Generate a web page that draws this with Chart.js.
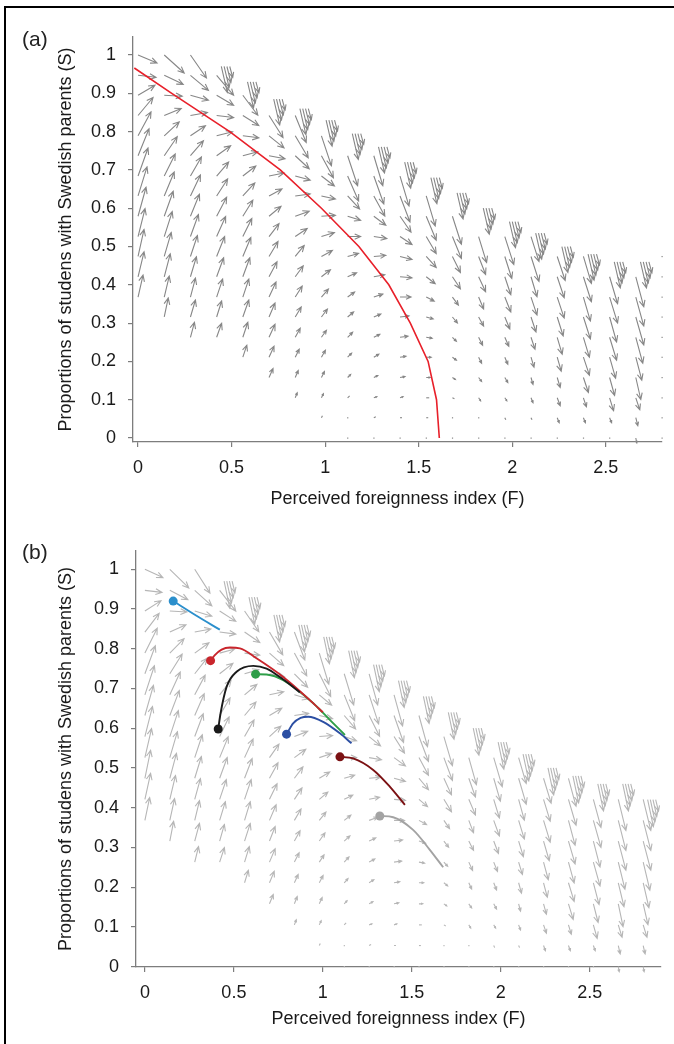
<!DOCTYPE html>
<html>
<head>
<meta charset="utf-8">
<script src="https://cdn.jsdelivr.net/npm/chart.js@4.4.0/dist/chart.umd.min.js"></script>
<style>
  body { margin: 0; background: #fff; width: 674px; height: 1044px; overflow: hidden; position: relative;
         font-family: "Liberation Sans", Arial, Helvetica, sans-serif; }
  #frame { position: absolute; left: 4px; top: 6px; width: 700px; height: 1100px;
           border-top: 2.5px solid #000; border-left: 2.5px solid #000; }
  canvas { position: absolute; left: 0; }
  #ca { top: 0; }
  #cb { top: 520px; }
  .tag { position: absolute; font-size: 21px; line-height: 1; color: #222; }
</style>
</head>
<body>
<div id="frame"></div>
<canvas id="ca" width="674" height="520"></canvas>
<canvas id="cb" width="674" height="524"></canvas>
<div class="tag" style="left:22px;top:28px">(a)</div>
<div class="tag" style="left:22px;top:541px">(b)</div>
<script>
// --- ticks ---
const xTicks = [0, 0.5, 1, 1.5, 2, 2.5];
const yTicks = [0, 0.1, 0.2, 0.3, 0.4, 0.5, 0.6, 0.7, 0.8, 0.9, 1];

// --- vector field grid (F columns, S rows from top) ---
const fieldF = [0, 0.14, 0.28, 0.42, 0.56, 0.7, 0.84, 0.98, 1.12, 1.26, 1.4,
                1.54, 1.68, 1.82, 1.96, 2.1, 2.24, 2.38, 2.52, 2.66, 2.8];
const fieldS = [1, 0.947, 0.895, 0.842, 0.789, 0.737, 0.684, 0.632, 0.579, 0.526,
                0.474, 0.421, 0.368, 0.316, 0.263, 0.211, 0.158, 0.105, 0.053, 0];

// first row drawn in each column (index into fieldS)
const colStart = [0, 0, 0, 1, 2, 3, 3, 4, 5, 5, 6, 7, 8, 9, 9, 9, 10, 10, 11, 11];

// field components [dF, dS] per column, top row first (arbitrary units)
const colVec = [
  [[19,-8],[18,-2],[17,10],[15,18],[13,24],[11,27],[10,28],[9,29],[8,29],[7,28],[6,27],[6,25],[5,22]],
  [[20,-18],[19,-9],[18,-1],[17,7],[15,14],[13,19],[11,22],[10,24],[9,25],[8,25],[7,24],[6,23],[5,21],[4,19]],
  [[16,-23],[18,-15],[18,-5],[17,3],[15,10],[13,15],[11,19],[10,21],[9,22],[8,22],[7,21],[6,20],[5,19],[5,17],[4,15]],
  [[17,-20],[17,-10],[17,-2],[16,4],[14,10],[12,14],[11,17],[10,19],[9,20],[8,20],[7,19],[6,18],[5,16],[5,14]],
  [[15,-20],[16,-10],[16,-2],[15,4],[13,10],[12,13],[10,16],[9,18],[8,19],[7,19],[6,18],[6,17],[5,15],[4,12]],
  [[14,-22],[15,-12],[16,-3],[15,3],[13,7],[12,10],[10,13],[9,15],[8,15],[7,15],[6,14],[6,13],[5,11],[4,9]],
  [[11,-27],[13,-22],[14,-13],[15,-4],[15,2],[14,5],[12,8],[9,11],[8,11],[7,11],[6,10],[5,9],[4,8],[3,7],[2,5]],
  [[10,-30],[12,-22],[13,-10],[14,-3],[14,1],[13,4],[11,6],[9,7],[7,8],[6,8],[5,7],[4,7],[3,6],[2,4],[1,2]],
  [[10,-30],[11,-25],[12,-13],[13,-4],[13,0],[11,3],[9,4],[7,5],[6,5],[5,5],[4,4],[3,3],[2,2],[1,1],[0.5,0]],
  [[9,-30],[10,-28],[11,-20],[12,-9],[13,-2],[12,1],[11,2],[9,3],[7,3],[6,3],[5,3],[4,2],[3,1],[2,1],[0.5,0]],
  [[9,-30],[10,-26],[11,-16],[12,-8],[12,-3],[12,-1],[11,0],[9,1],[8,1],[6,1],[5,1],[3,1],[2,0],[0.5,0]],
  [[9,-30],[10,-24],[10,-17],[10,-11],[9,-7],[8,-4],[7,-2],[6,-1],[5,0],[4,0],[3,0],[2,0],[0.5,0]],
  [[9,-28],[9,-22],[8,-16],[8,-12],[6,-8],[5,-6],[4,-4],[4,-3],[3,-2],[2,-1],[1,-1],[0.5,0]],
  [[8,-26],[7,-18],[7,-15],[5,-12],[5,-9],[4,-8],[3,-6],[3,-4],[2,-3],[1,-1],[0.5,0]],
  [[9,-28],[7,-22],[6,-18],[6,-15],[5,-12],[4,-9],[3,-7],[3,-5],[2,-3],[1,-2],[0.5,0]],
  [[8,-25],[8,-25],[6,-20],[6,-18],[5,-15],[4,-12],[3,-10],[2,-7],[2,-5],[1,-2],[0.5,0]],
  [[8,-24],[7,-21],[7,-21],[6,-19],[5,-17],[4,-14],[3,-10],[3,-8],[2,-5],[0.5,-1]],
  [[8,-27],[8,-25],[7,-24],[7,-22],[6,-20],[6,-18],[5,-15],[3,-9],[2,-5],[0.5,-1]],
  [[8,-27],[8,-26],[7,-25],[7,-23],[6,-21],[5,-18],[4,-13],[2,-5],[0.5,-1]],
  [[8,-30],[8,-29],[8,-28],[7,-26],[6,-23],[5,-22],[4,-12],[2,-8],[1,-5]]
];
// last column (F = 2.8) differs between the panels
const lastStartA = 10;
const lastVecA = [[0.5,0],[0.5,0],[0.5,0],[0.5,0],[0.5,0],[0.5,0],[0.5,0],[0.5,0],[0.5,0],[0.5,0]];
const lastStartB = 11;
const lastVecB = [[8,-30],[8,-29],[8,-28],[7,-27],[6,-24],[5,-20],[4,-12],[2,-8],[1,-5]];

// bunched arrows at the upper edge of each column
const edgeS = [null, null, null, 0.97, 0.93, 0.885, 0.86, 0.83, 0.795, 0.76, 0.72,
               0.68, 0.64, 0.60, 0.565, 0.535, 0.50, 0.48, 0.46, 0.46];
const edgeDF = [0.025, 0.04, 0.055, 0.07];
const edgeVec = [[6,-26],[5,-21],[4,-16],[3,-11]];

// --- panel (a): S nullcline ---
const nullF = [-0.02, 0.18, 0.49, 0.76, 0.98, 1.18, 1.34, 1.455, 1.55, 1.595, 1.61];
const nullS = [0.966, 0.9, 0.8, 0.7, 0.6, 0.5, 0.4, 0.3, 0.2, 0.1, 0.0];

// --- panel (b): trajectories (first point = start dot) ---
const trajCyanF = [0.159, 0.29, 0.421];
const trajCyanS = [0.920, 0.883, 0.848];
const trajBlackF = [0.412, 0.425, 0.459, 0.515, 0.609, 0.684, 0.758, 0.833, 0.87];
const trajBlackS = [0.598, 0.637, 0.704, 0.742, 0.757, 0.750, 0.729, 0.704, 0.69];
const trajRedF = [0.369, 0.393, 0.431, 0.478, 0.534, 0.627, 0.777, 0.936, 1.0];
const trajRedS = [0.770, 0.784, 0.798, 0.803, 0.801, 0.776, 0.729, 0.667, 0.640];
const trajGreenF = [0.622, 0.684, 0.777, 0.946, 1.039, 1.124];
const trajGreenS = [0.736, 0.735, 0.721, 0.663, 0.621, 0.583];
const trajBlueF = [0.796, 0.833, 0.875, 0.918, 1.002, 1.096, 1.161];
const trajBlueS = [0.585, 0.612, 0.626, 0.629, 0.616, 0.587, 0.562];
const trajDarkRedF = [1.096, 1.170, 1.283, 1.376, 1.461];
const trajDarkRedS = [0.528, 0.524, 0.495, 0.453, 0.407];
const trajGreyF = [1.320, 1.395, 1.507, 1.601, 1.676];
const trajGreyS = [0.379, 0.376, 0.344, 0.294, 0.250];

// quiver scale: one field unit in data units
const arrowUnitF = 1 / 187.4;
const arrowUnitS = 1 / 383;

const axisGrey = '#7d7d7d';
const textCol = '#1a1a1a';
Chart.defaults.font.family = '"Liberation Sans", Arial, Helvetica, sans-serif';

function drawArrow(ctx, x0, y0, x1, y1) {
  const dx = x1 - x0, dy = y1 - y0, len = Math.hypot(dx, dy);
  if (len < 1.5) { ctx.fillRect(x0 - 0.5, y0 - 0.5, 1.2, 1.2); return; }
  ctx.beginPath();
  ctx.moveTo(x0, y0);
  ctx.lineTo(x1, y1);
  if (len > 3) {
    const h = Math.min(7, len * 0.5), a = Math.atan2(dy, dx), w = 0.42;
    ctx.moveTo(x1 - h * Math.cos(a - w), y1 - h * Math.sin(a - w));
    ctx.lineTo(x1, y1);
    ctx.lineTo(x1 - h * Math.cos(a + w), y1 - h * Math.sin(a + w));
  }
  ctx.stroke();
}

const quiver = {
  id: 'quiver',
  beforeDatasetsDraw(chart, args, opts) {
    const { ctx, scales: { x, y } } = chart;
    const cols = colVec.concat([opts.lastVec]);
    const starts = colStart.concat([opts.lastStart]);
    const edges = edgeS.concat([opts.lastEdge]);
    ctx.save();
    ctx.strokeStyle = opts.color;
    ctx.fillStyle = opts.color;
    ctx.lineWidth = 1.1;
    cols.forEach((vecs, c) => {
      const f = fieldF[c];
      vecs.forEach(([u, v], k) => {
        const s = fieldS[starts[c] + k];
        drawArrow(ctx, x.getPixelForValue(f), y.getPixelForValue(s),
          x.getPixelForValue(f + u * arrowUnitF), y.getPixelForValue(s + v * arrowUnitS));
      });
      if (edges[c] != null) {
        edgeVec.forEach(([u, v], j) => {
          const f0 = f + edgeDF[j], s0 = edges[c];
          drawArrow(ctx, x.getPixelForValue(f0), y.getPixelForValue(s0),
            x.getPixelForValue(f0 + u * arrowUnitF), y.getPixelForValue(s0 + v * arrowUnitS));
        });
      }
    });
    ctx.restore();
  }
};

function xScale(min, max, fitH, titlePad) {
  return {
    type: 'linear', min, max,
    afterBuildTicks: s => { s.ticks = xTicks.map(v => ({ value: v })); },
    afterFit: s => { s.height = fitH; },
    grid: { drawOnChartArea: false, drawTicks: true, tickLength: 5, color: axisGrey, lineWidth: 1.2 },
    border: { display: true, color: axisGrey, width: 1.3 },
    ticks: { padding: 10, color: textCol, font: { size: 18 }, maxRotation: 0, autoSkip: false, callback: v => String(v) },
    title: { display: true, text: 'Perceived foreignness index (F)', color: textCol, font: { size: 18 },
             padding: { top: 0, bottom: titlePad } }
  };
}
function yScale(min, max, fitW, titlePad) {
  return {
    type: 'linear', min, max,
    afterBuildTicks: s => { s.ticks = yTicks.map(v => ({ value: v })); },
    afterFit: s => { s.width = fitW; },
    grid: { drawOnChartArea: false, drawTicks: true, tickLength: 5, color: axisGrey, lineWidth: 1.2 },
    border: { display: true, color: axisGrey, width: 1.3 },
    ticks: { padding: 12, color: textCol, font: { size: 18 }, autoSkip: false, callback: v => String(v) },
    title: { display: true, text: 'Proportions of studens with Swedish parents (S)', color: textCol, font: { size: 18 },
             padding: { top: titlePad, bottom: 0 } }
  };
}
const pts = (fs, ss) => fs.map((f, i) => ({ x: f, y: ss[i] }));

// panel (a)
new Chart(document.getElementById('ca'), {
  type: 'scatter',
  data: {
    datasets: [{
      data: pts(nullF, nullS), showLine: true, borderColor: '#e8202a', borderWidth: 1.6,
      pointRadius: 0, tension: 0
    }]
  },
  options: {
    responsive: false, animation: false, devicePixelRatio: 1,
    layout: { padding: { left: 0, top: 37, right: 12, bottom: 0 } },
    plugins: {
      legend: { display: false }, tooltip: { enabled: false },
      quiver: { color: '#878787', lastVec: lastVecA, lastStart: lastStartA, lastEdge: null }
    },
    scales: { x: xScale(-0.027, 2.8, 78, 9.7), y: yScale(-0.0104, 1.047, 133, 55) }
  },
  plugins: [quiver]
});

// panel (b)
const trajs = [
  [trajCyanF, trajCyanS, '#2b8fcc'],
  [trajBlackF, trajBlackS, '#1a1a1a'],
  [trajRedF, trajRedS, '#c9252c'],
  [trajGreenF, trajGreenS, '#2e9e48'],
  [trajBlueF, trajBlueS, '#2c4fa3'],
  [trajDarkRedF, trajDarkRedS, '#7b1113'],
  [trajGreyF, trajGreyS, '#a3a3a3']
];
new Chart(document.getElementById('cb'), {
  type: 'scatter',
  data: {
    datasets: trajs.map(([fs, ss, col]) => ({
      data: pts(fs, ss), showLine: true, borderColor: col, borderWidth: 1.9,
      cubicInterpolationMode: 'monotone',
      pointRadius: c => (c.dataIndex === 0 ? 4.5 : 0),
      pointBackgroundColor: col, pointBorderWidth: 0
    }))
  },
  options: {
    responsive: false, animation: false, devicePixelRatio: 1,
    layout: { padding: { left: 0, top: 31, right: 13, bottom: 0 } },
    plugins: {
      legend: { display: false }, tooltip: { enabled: false },
      quiver: { color: '#b6b6b6', lastVec: lastVecB, lastStart: lastStartB, lastEdge: 0.42 }
    },
    scales: { x: xScale(-0.05, 2.9, 77, 14), y: yScale(-0.001, 1.046, 136, 55) }
  },
  plugins: [quiver]
});
</script>
</body>
</html>
